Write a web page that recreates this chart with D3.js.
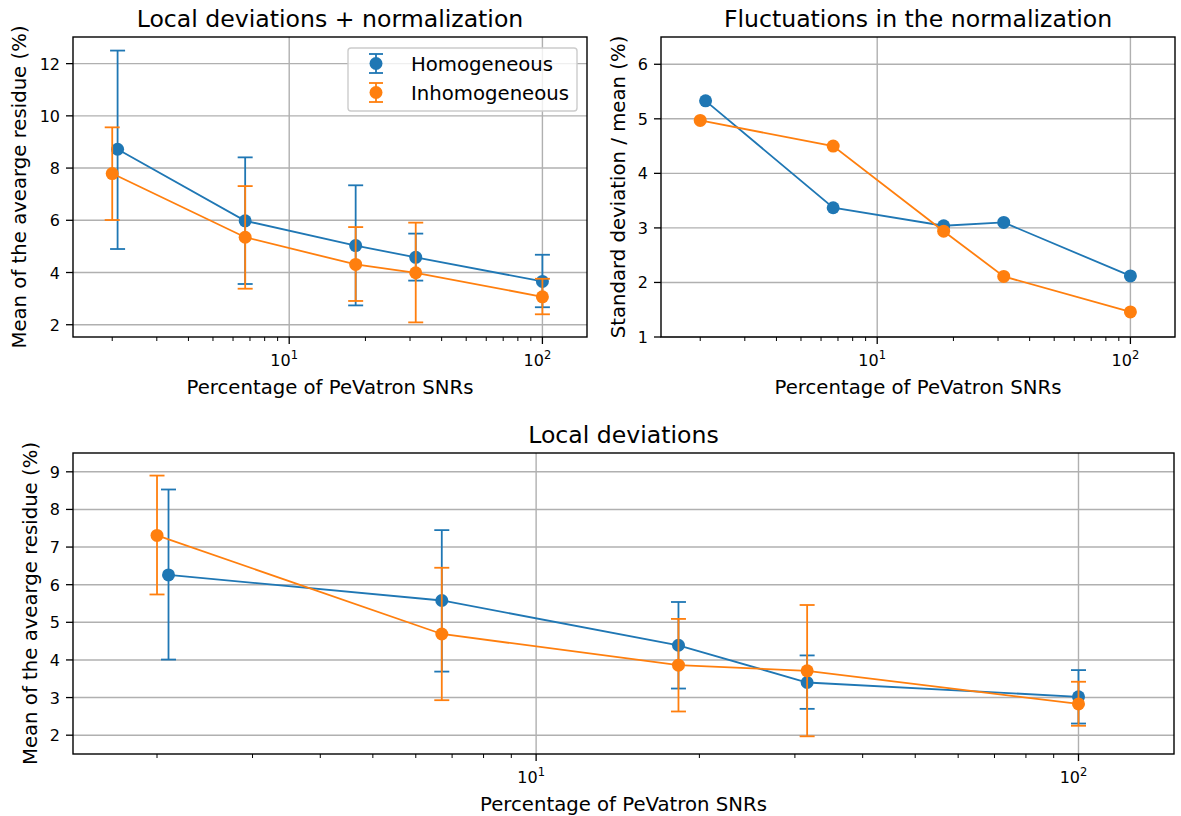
<!DOCTYPE html>
<html>
<head>
<meta charset="utf-8">
<script src="https://cdn.jsdelivr.net/npm/d3@7"></script>
<style>
  body { margin: 0; background: #fff; }
  svg text { font-family: "DejaVu Sans", sans-serif; fill: #000; }
</style>
</head>
<body>
<svg id="fig" width="1181" height="816"></svg>
<script>
// ---- data ----
const xHom = [2.1, 6.7, 18.3, 31.6, 100];
const xInh = [2.0, 6.7, 18.3, 31.6, 100];

// Local deviations + normalization
const normHom = [8.72, 5.98, 5.03, 4.58, 3.66];
const normHomLo = [4.90, 3.56, 2.74, 3.69, 2.67];
const normHomHi = [12.50, 8.41, 7.34, 5.49, 4.68];
const normInh = [7.79, 5.35, 4.31, 3.99, 3.07];
const normInhLo = [6.01, 3.38, 2.91, 2.09, 2.40];
const normInhHi = [9.56, 7.31, 5.74, 5.91, 3.76];

// Fluctuations in the normalization
const flucHom = [5.33, 3.37, 3.04, 3.10, 2.12];
const flucInh = [4.97, 4.50, 2.94, 2.11, 1.46];

// Local deviations
const locHom = [6.26, 5.58, 4.39, 3.40, 3.02];
const locHomLo = [4.01, 3.69, 3.24, 2.70, 2.31];
const locHomHi = [8.53, 7.45, 5.54, 4.12, 3.73];
const locInh = [7.31, 4.69, 3.86, 3.71, 2.83];
const locInhLo = [5.74, 2.93, 2.63, 1.97, 2.25];
const locInhHi = [8.90, 6.45, 5.09, 5.46, 3.42];

const seriesNames = ["Homogeneous", "Inhomogeneous"];
const colors = ["#1f77b4", "#ff7f0e"];
const xMajor = [10, 100];
const xMinor = [2, 3, 4, 5, 6, 7, 8, 9, 20, 30, 40, 50, 60, 70, 80, 90];

const svg = d3.select("#fig");
const LW = 1.8;

function zip(xs, ys, lo, hi) {
    return xs.map((x, i) => ({x: x, y: ys[i], lo: lo ? lo[i] : null, hi: hi ? hi[i] : null}));
}

function drawPanel(opt) {
    const x = d3.scaleLog().domain([1.4, 150]).range([opt.left, opt.right]);
    const y = d3.scaleLinear().domain(opt.ydom).range([opt.bottom, opt.top]);
    const g = svg.append("g");

    // grid
    g.selectAll(".gy").data(opt.yticks).join("line")
        .attr("x1", opt.left).attr("x2", opt.right)
        .attr("y1", d => y(d)).attr("y2", d => y(d))
        .attr("stroke", "#b0b0b0").attr("stroke-width", 1.4);
    g.selectAll(".gx").data(xMajor).join("line")
        .attr("x1", d => x(d)).attr("x2", d => x(d))
        .attr("y1", opt.top).attr("y2", opt.bottom)
        .attr("stroke", "#b0b0b0").attr("stroke-width", 1.4);

    // series
    opt.series.forEach((s, si) => {
        const c = colors[si];
        const sg = g.append("g");
        const withErr = s.filter(d => d.lo !== null);
        sg.selectAll(".eb").data(withErr).join("line")
            .attr("x1", d => x(d.x)).attr("x2", d => x(d.x))
            .attr("y1", d => y(d.lo)).attr("y2", d => y(d.hi))
            .attr("stroke", c).attr("stroke-width", LW);
        ["lo", "hi"].forEach(k => {
            sg.selectAll(".cap" + k).data(withErr).join("line")
                .attr("x1", d => x(d.x) - 7.5).attr("x2", d => x(d.x) + 7.5)
                .attr("y1", d => y(d[k])).attr("y2", d => y(d[k]))
                .attr("stroke", c).attr("stroke-width", LW);
        });
        sg.append("path").datum(s)
            .attr("d", d3.line().x(d => x(d.x)).y(d => y(d.y)))
            .attr("fill", "none").attr("stroke", c).attr("stroke-width", LW);
        sg.selectAll("circle").data(s).join("circle")
            .attr("cx", d => x(d.x)).attr("cy", d => y(d.y))
            .attr("r", 6.5).attr("fill", c);
    });

    // frame
    g.append("rect")
        .attr("x", opt.left).attr("y", opt.top)
        .attr("width", opt.right - opt.left).attr("height", opt.bottom - opt.top)
        .attr("fill", "none").attr("stroke", "#000").attr("stroke-width", 1.4);

    // y ticks
    opt.yticks.forEach(t => {
        g.append("line").attr("x1", opt.left - 7).attr("x2", opt.left)
            .attr("y1", y(t)).attr("y2", y(t)).attr("stroke", "#000").attr("stroke-width", 1.3);
        g.append("text").attr("x", opt.left - 13).attr("y", y(t) + 6)
            .attr("text-anchor", "end")
            .attr("font-size", 16).text(t);
    });

    // x ticks
    xMinor.forEach(t => {
        g.append("line").attr("x1", x(t)).attr("x2", x(t))
            .attr("y1", opt.bottom).attr("y2", opt.bottom + 4)
            .attr("stroke", "#000").attr("stroke-width", 1);
    });
    xMajor.forEach(t => {
        g.append("line").attr("x1", x(t)).attr("x2", x(t))
            .attr("y1", opt.bottom).attr("y2", opt.bottom + 7)
            .attr("stroke", "#000").attr("stroke-width", 1.3);
        const tx = g.append("text").attr("x", x(t) - 5).attr("y", opt.bottom + 28.5)
            .attr("text-anchor", "middle").attr("font-size", 16);
        tx.append("tspan").text("10");
        tx.append("tspan").attr("font-size", 11.5).attr("dy", -7).text(Math.log10(t));
    });

    // labels
    g.append("text").attr("x", (opt.left + opt.right) / 2).attr("y", opt.bottom + 57)
        .attr("text-anchor", "middle").attr("font-size", 19.7).text("Percentage of PeVatron SNRs");
    g.append("text")
        .attr("transform", `translate(${opt.ylabelX},${(opt.top + opt.bottom) / 2}) rotate(-90)`)
        .attr("text-anchor", "middle").attr("dominant-baseline", "central")
        .attr("font-size", 19.7).text(opt.ylabel);
    g.append("text").attr("x", (opt.left + opt.right) / 2).attr("y", opt.top - 10.5)
        .attr("text-anchor", "middle").attr("font-size", 23.6).text(opt.title);
    return {g: g, x: x, y: y};
}

const p1 = drawPanel({
    left: 73, right: 587, top: 37, bottom: 337, ydom: [1.53, 13.02], ylabelX: 19,
    yticks: [2, 4, 6, 8, 10, 12], title: "Local deviations + normalization",
    ylabel: "Mean of the avearge residue (%)",
    series: [zip(xHom, normHom, normHomLo, normHomHi), zip(xInh, normInh, normInhLo, normInhHi)]
});

drawPanel({
    left: 661, right: 1175, top: 37, bottom: 337, ydom: [1, 6.5], ylabelX: 618,
    yticks: [1, 2, 3, 4, 5, 6], title: "Fluctuations in the normalization",
    ylabel: "Standard deviation / mean (%)",
    series: [zip(xHom, flucHom), zip(xInh, flucInh)]
});

drawPanel({
    left: 73, right: 1174, top: 453, bottom: 754, ydom: [1.5, 9.5], ylabelX: 30,
    yticks: [2, 3, 4, 5, 6, 7, 8, 9], title: "Local deviations",
    ylabel: "Mean of the avearge residue (%)",
    series: [zip(xHom, locHom, locHomLo, locHomHi), zip(xInh, locInh, locInhLo, locInhHi)]
});

// legend in first panel
const lg = p1.g.append("g");
lg.append("rect").attr("x", 348).attr("y", 48).attr("width", 229).attr("height", 63)
    .attr("rx", 3).attr("fill", "#fff").attr("fill-opacity", 0.8)
    .attr("stroke", "#cccccc").attr("stroke-width", 1.4);
seriesNames.forEach((name, i) => {
    const cy = 63.5 + i * 29;
    const c = colors[i];
    lg.append("line").attr("x1", 376).attr("x2", 376).attr("y1", cy - 9.5).attr("y2", cy + 9.5)
        .attr("stroke", c).attr("stroke-width", LW);
    [-9.5, 9.5].forEach(dy => {
        lg.append("line").attr("x1", 369).attr("x2", 383).attr("y1", cy + dy).attr("y2", cy + dy)
            .attr("stroke", c).attr("stroke-width", LW);
    });
    lg.append("circle").attr("cx", 376).attr("cy", cy).attr("r", 6.5).attr("fill", c);
    lg.append("text").attr("x", 411).attr("y", cy + 7)
        .attr("font-size", 19.7).text(name);
});
</script>
</body>
</html>
